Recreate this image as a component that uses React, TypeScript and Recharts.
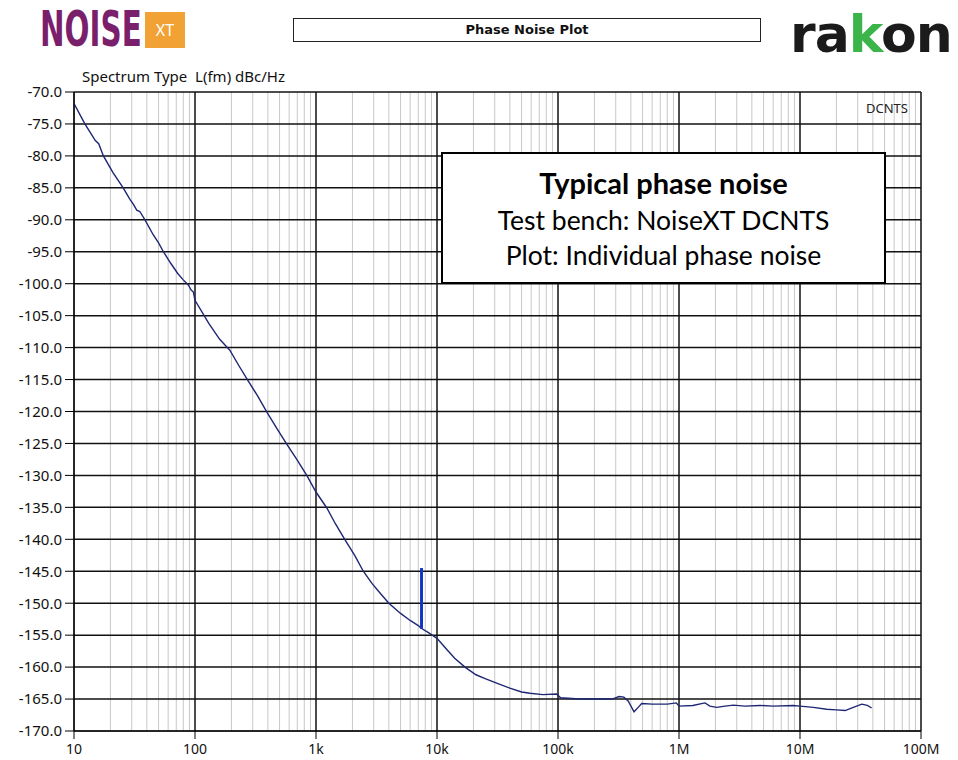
import React from "react";
import { Line, LineChart, ReferenceLine, XAxis, YAxis } from "recharts";

const freqHz = [
  10, 12.3, 15, 16, 17.5, 21, 25.5, 29, 31, 33, 35, 38.6, 45, 50, 54.8, 63, 72, 80, 88, 93, 97,
  100, 130, 160, 194, 230, 275, 330, 396, 480, 573, 700, 839, 1000, 1229, 1450, 1738, 2100,
  2460, 2900, 3380, 4000, 5000, 6000, 7000, 7400, 7520, 8500, 10000, 12000, 14000, 17030,
  21000, 25000, 31130, 40000, 50000, 58700, 75000, 97500, 105000, 150000, 200000, 280000,
  320000, 350000, 380000, 425000, 460000, 492000, 600000, 800000, 950000, 1000000, 1300000,
  1640000, 1800000, 2050000, 2400000, 2810000, 3500000, 4670000, 6000000, 8800000, 10000000,
  12900000, 16600000, 20000000, 23600000, 27600000, 32400000, 36000000, 39100000,
];
const phaseNoise = [
  -71.8, -75.0, -77.6, -78.1, -80.0, -82.6, -85.0, -86.8, -87.6, -88.5, -88.7, -90.0, -92.3,
  -93.6, -95.0, -96.8, -98.4, -99.4, -100.2, -101.0, -101.3,
  -102.6, -106.2, -108.7, -110.4, -112.8, -115.2, -117.6, -120.2, -122.8, -125.1, -127.6,
  -130.0, -132.6, -135.1, -137.6, -140.1, -142.6,
  -145.0, -146.9, -148.4, -150.0, -151.6, -152.7, -153.5, -153.9, -154.0, -154.6, -155.5,
  -157.2, -158.6, -160.0,
  -161.2, -161.8, -162.5, -163.3, -163.9, -164.1, -164.3, -164.2, -164.8, -165.0, -165.0,
  -165.0, -164.6, -164.7, -165.3, -167.0, -166.3, -165.7, -165.8, -165.8, -165.6, -166.1,
  -166.0, -165.6, -166.1, -166.3, -166.1, -165.95, -166.1, -166.0, -166.1, -166.0, -166.1,
  -166.3, -166.6, -166.7, -166.8, -166.3, -165.8, -166.0, -166.4,
];

// discrete spur near 7.45 kHz
const spurFreq = [7450, 7450];
const spurLevel = [-154.0, -144.5];

const decadeTicks = [10, 100, 1000, 10000, 100000, 1000000, 10000000, 100000000];
const decadeLabels = ["10", "100", "1k", "10k", "100k", "1M", "10M", "100M"];
const levelTicks = [
  -170, -165, -160, -155, -150, -145, -140, -135, -130, -125, -120, -115, -110, -105, -100,
  -95, -90, -85, -80, -75, -70,
];
const minorSteps = [2, 3, 4, 5, 6, 7, 8, 9];

const curve = freqHz.map((f, i) => ({ f, v: phaseNoise[i] }));
const spur = spurFreq.map((f, i) => ({ f, v: spurLevel[i] }));
const minorFreqs = decadeTicks.slice(0, -1).flatMap((d) => minorSteps.map((m) => d * m));

const uiFont = "'Noto Sans', 'DejaVu Sans', sans-serif";

export default function App() {
  return (
    <div style={{ position: "absolute", left: 0, top: 0, width: 958, height: 760, background: "#fff" }}>
      <LineChart width={958} height={760} margin={{ top: 92, right: 37, bottom: 4, left: 0 }}>
        <XAxis
          dataKey="f"
          type="number"
          scale="log"
          domain={[10, 100000000]}
          ticks={decadeTicks}
          tickFormatter={(v: number) => decadeLabels[decadeTicks.indexOf(v)] ?? ""}
          height={25}
          tickSize={8}
          tickMargin={5}
          stroke="#000"
          tick={{ fill: "#111", fontSize: 14, fontFamily: uiFont }}
          allowDataOverflow
        />
        <YAxis
          type="number"
          domain={[-170, -70]}
          ticks={levelTicks}
          tickFormatter={(v: number) => v.toFixed(1)}
          width={74}
          tickSize={9}
          tickMargin={3}
          stroke="#000"
          tick={{ fill: "#111", fontSize: 15, fontFamily: uiFont }}
          interval={0}
        />
        {minorFreqs.map((f) => (
          <ReferenceLine key={`m${f}`} x={f} stroke="#c8c8c8" strokeWidth={1} />
        ))}
        {levelTicks.map((v) => (
          <ReferenceLine key={`h${v}`} y={v} stroke="#111" strokeWidth={1.5} />
        ))}
        {decadeTicks.map((f) => (
          <ReferenceLine key={`d${f}`} x={f} stroke="#111" strokeWidth={1.5} />
        ))}
        <Line
          data={curve}
          dataKey="v"
          stroke="#1d2773"
          strokeWidth={1.4}
          dot={false}
          type="linear"
          isAnimationActive={false}
        />
        <Line
          data={spur}
          dataKey="v"
          stroke="#1534c4"
          strokeWidth={3}
          dot={false}
          type="linear"
          isAnimationActive={false}
        />
      </LineChart>

      {/* header */}
      <div
        style={{
          position: "absolute",
          left: 40,
          top: 4,
          fontFamily: "'DejaVu Sans', sans-serif",
          fontWeight: 700,
          fontSize: 49,
          lineHeight: "52px",
          color: "#7a1f6c",
          transform: "scaleX(0.6)",
          transformOrigin: "left top",
          whiteSpace: "nowrap",
        }}
      >
        NOISE
      </div>
      <div
        style={{
          position: "absolute",
          left: 145,
          top: 12,
          width: 40,
          height: 36,
          background: "#f2a235",
          color: "#fff",
          fontFamily: uiFont,
          fontSize: 16,
          lineHeight: "36px",
          textAlign: "center",
        }}
      >
        XT
      </div>
      <div
        style={{
          position: "absolute",
          left: 293,
          top: 18,
          width: 468,
          height: 24,
          boxSizing: "border-box",
          border: "1.5px solid #222",
          fontFamily: "'DejaVu Sans', sans-serif",
          fontWeight: 700,
          fontSize: 13,
          lineHeight: "21px",
          textAlign: "center",
          color: "#111",
        }}
      >
        Phase Noise Plot
      </div>
      <div
        style={{
          position: "absolute",
          left: 790,
          top: 4,
          fontFamily: "'DejaVu Sans', sans-serif",
          fontWeight: 700,
          fontSize: 52,
          lineHeight: "60px",
          color: "#1b1b1b",
          letterSpacing: -1,
        }}
      >
        ra<span style={{ color: "#3bb54a" }}>k</span>on
      </div>
      <div
        style={{
          position: "absolute",
          left: 82,
          top: 66,
          fontFamily: uiFont,
          fontSize: 15,
          lineHeight: "20px",
          color: "#111",
        }}
      >
        Spectrum Type&nbsp; L(fm) dBc/Hz
      </div>
      <div
        style={{
          position: "absolute",
          left: 866,
          top: 99,
          fontFamily: uiFont,
          fontSize: 13,
          lineHeight: "18px",
          color: "#222",
        }}
      >
        DCNTS
      </div>

      {/* annotation box */}
      <div
        style={{
          position: "absolute",
          left: 441,
          top: 152,
          width: 445,
          height: 132,
          boxSizing: "border-box",
          border: "2px solid #000",
          background: "#fff",
          fontFamily: "Lato, 'Open Sans', sans-serif",
          color: "#000",
          textAlign: "center",
          whiteSpace: "nowrap",
        }}
      >
        <div style={{ position: "absolute", left: 0, right: 0, top: 13, lineHeight: "32px", fontSize: 29, fontWeight: 700 }}>
          Typical phase noise
        </div>
        <div style={{ position: "absolute", left: 0, right: 0, top: 50, lineHeight: "32px", fontSize: 26.5 }}>
          Test bench: NoiseXT DCNTS
        </div>
        <div style={{ position: "absolute", left: 0, right: 0, top: 85, lineHeight: "32px", fontSize: 26.5 }}>
          Plot: Individual phase noise
        </div>
      </div>
    </div>
  );
}
